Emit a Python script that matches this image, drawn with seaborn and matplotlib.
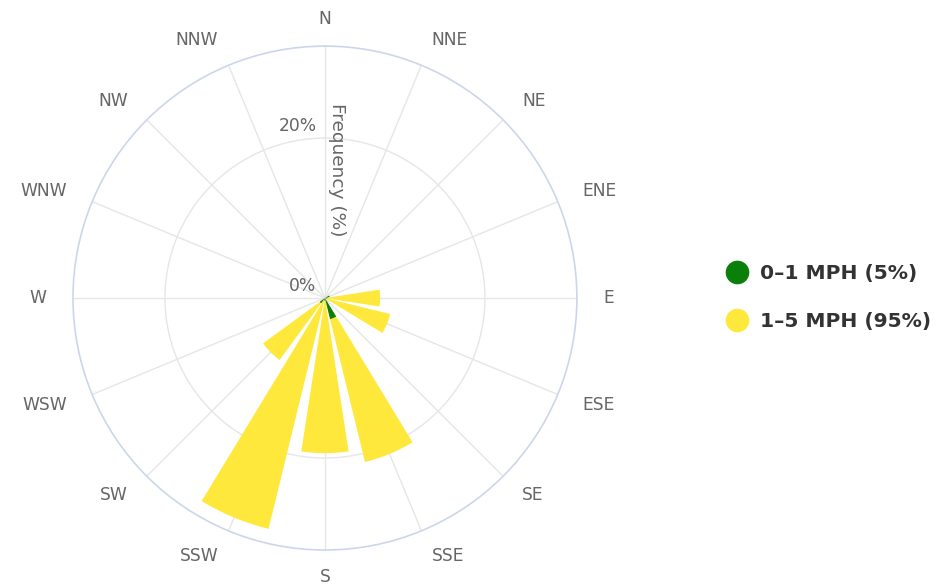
import numpy as np
import matplotlib
matplotlib.use("Agg")
import matplotlib.pyplot as plt
from matplotlib.lines import Line2D
import seaborn as sns

directions = ["N", "NNE", "NE", "ENE", "E", "ESE", "SE", "SSE",
              "S", "SSW", "SW", "WSW", "W", "WNW", "NW", "NNW"]
speed_0_1 = [0, 0, 0, 0.6, 0.3, 0, 0, 2.7, 0.3, 0.3, 0.8, 0, 0, 0, 0, 0]
speed_1_5 = [0, 0, 0, 0, 6.9, 8.4, 0, 21.1, 19.4, 29.7, 9.6, 0, 0, 0, 0, 0]
series_labels = ["0\u20131 MPH (5%)", "1\u20135 MPH (95%)"]
series_colors = ["#0a7f0a", "#ffe83c"]
radial_ticks = [0, 20]
radial_max = 31.5

sns.set_theme(style="white")
plt.rcParams["font.family"] = ["DejaVu Sans"]

fig = plt.figure(figsize=(9.5, 5.88), dpi=100)
ax = fig.add_axes([0.0768, 0.0646, 0.5305, 0.857], projection="polar")
ax.set_theta_zero_location("N")
ax.set_theta_direction(-1)

angles_deg = np.arange(len(directions)) * 22.5
theta = np.deg2rad(angles_deg)
width = np.deg2rad(22.5 * 0.78)

ax.bar(theta, speed_1_5, width=width, color=series_colors[1], linewidth=0, zorder=3)
ax.bar(theta, speed_0_1, width=width, color=series_colors[0], linewidth=0, zorder=4)

ax.set_ylim(0, radial_max)
ax.set_yticks([20])
ax.set_yticklabels([])
ax.set_xticks(theta)
ax.set_xticklabels([])
ax.grid(True, color="#e6e6e6", linewidth=1)
ax.spines["polar"].set_color("#ccd6eb")
ax.spines["polar"].set_linewidth(1.2)
ax.set_facecolor("white")

# direction labels outside the ring
label_r = radial_max * 1.107
for ang, th, name in zip(angles_deg, theta, directions):
    if ang == 0 or ang == 180:
        ha = "center"
    elif ang < 180:
        ha = "left"
    else:
        ha = "right"
    ax.text(th, label_r, name, ha=ha, va="center", color="#666666",
            fontsize=12.3, clip_on=False)

for t in radial_ticks:
    ax.annotate(f"{t}%", xy=(0, t), xytext=(-6, 2), textcoords="offset points",
                ha="right", va="bottom", color="#666666", fontsize=12.3, zorder=6)

ax.annotate("Frequency (%)", xy=(0, 16), xytext=(9, 0), textcoords="offset points",
            ha="center", va="center", rotation=270, color="#666666", fontsize=13.3, zorder=6)

handles = [Line2D([0], [0], marker="o", linestyle="", markersize=16,
                  markerfacecolor=c, markeredgecolor=c) for c in series_colors]
leg = fig.legend(handles, series_labels, loc="center left", bbox_to_anchor=(0.746, 0.494),
                 frameon=False, handletextpad=0.65, labelspacing=1.4, handlelength=1.0,
                 prop={"weight": "bold", "size": 14.6})
for txt in leg.get_texts():
    txt.set_color("#333333")

fig.savefig("out.png", dpi=100, facecolor="white")
